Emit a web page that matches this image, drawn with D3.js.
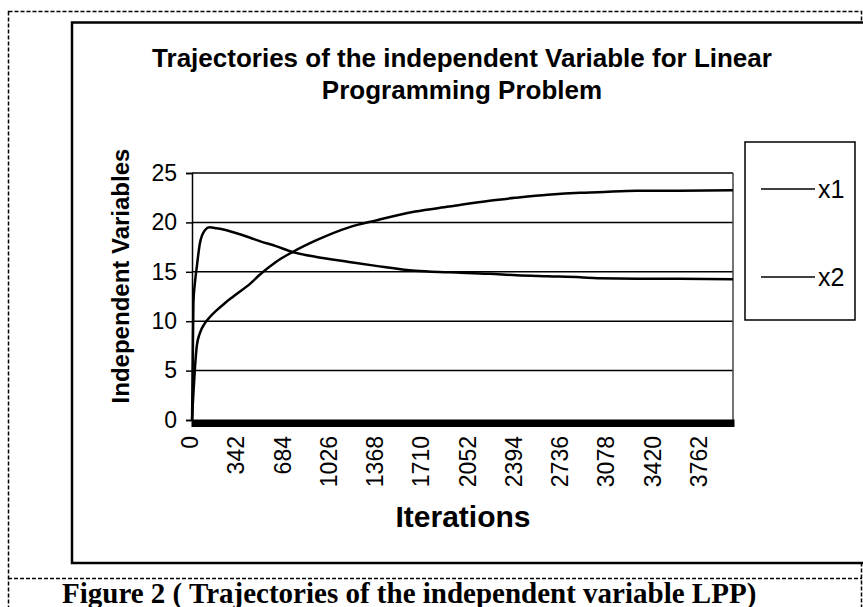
<!DOCTYPE html>
<html><head><meta charset="utf-8">
<script src="https://cdn.jsdelivr.net/npm/d3@7"></script>
<style>body{margin:0;background:#fff}svg{display:block}text{font-family:"Liberation Sans",Arial,sans-serif;fill:#000}</style>
</head><body><svg id="c" width="863" height="607"></svg>
<script>
// ---- data ----
const nCategories = 4000;
const iterations = [0, 5, 10, 22, 35, 58, 95, 130, 181, 240, 305, 430, 500, 620, 743, 920, 1160, 1360, 1650, 1900, 2200, 2400, 2630, 2870, 3000, 3290, 3600, 3999];
const x1 = [0, 1.5, 2.7, 5.4, 7.5, 8.8, 9.8, 10.4, 11.1, 11.8, 12.5, 13.8, 14.7, 16.0, 17.0, 18.2, 19.5, 20.2, 21.1, 21.6, 22.2, 22.5, 22.8, 23.0, 23.05, 23.2, 23.2, 23.25];
const x2 = [0, 6.0, 11.8, 14.0, 15.5, 17.9, 19.2, 19.5, 19.4, 19.25, 19.0, 18.45, 18.1, 17.6, 17.0, 16.5, 16.0, 15.6, 15.1, 14.95, 14.8, 14.65, 14.55, 14.45, 14.35, 14.3, 14.3, 14.25];
const seriesNames = ["x1", "x2"];
const xTickLabels = [0, 342, 684, 1026, 1368, 1710, 2052, 2394, 2736, 3078, 3420, 3762];
const yTicks = [0, 5, 10, 15, 20, 25];
const titleLines = ["Trajectories of the independent Variable for Linear", "Programming Problem"];
const xTitle = "Iterations";
const yTitle = "Independent Variables";
const caption = "Figure 2 ( Trajectories of the independent variable LPP)";

const svg = d3.select("#c");
// outer dashed frame
svg.append("rect").attr("x",8.5).attr("y",11.5).attr("width",853).attr("height",700)
  .attr("fill","none").attr("stroke","#000").attr("stroke-width",1.5).attr("stroke-dasharray","4,2");
svg.append("line").attr("x1",8).attr("x2",862).attr("y1",578.5).attr("y2",578.5)
  .attr("stroke","#000").attr("stroke-width",1.5).attr("stroke-dasharray","4,2");
// chart box
svg.append("rect").attr("x",72).attr("y",22.5).attr("width",820).attr("height",540.5)
  .attr("fill","#fff").attr("stroke","#000").attr("stroke-width",2.5);

// caption
svg.append("text").attr("x",62).attr("y",603)
  .style("font-family","'Liberation Serif','Times New Roman',serif")
  .attr("font-size",29).attr("font-weight","bold").text(caption);

// title
svg.selectAll("text.title").data(titleLines).join("text").attr("class","title")
  .attr("x",462).attr("y",(d,i)=>67+i*32).attr("text-anchor","middle")
  .attr("font-size",26).attr("font-weight","bold").text(d=>d);

const L=192, R=733, T=173, B=420;
const x = d3.scaleLinear().domain([-0.5, nCategories-0.5]).range([L, R]);
const y = d3.scaleLinear().domain([0, 25]).range([B, T]);

// gridlines
svg.append("g").selectAll("line").data(yTicks.filter(v=>v>0)).join("line")
  .attr("x1",L).attr("x2",R).attr("y1",d=>y(d)).attr("y2",d=>y(d))
  .attr("stroke","#000").attr("stroke-width",1.5);
// plot right border
svg.append("line").attr("x1",R).attr("x2",R).attr("y1",T).attr("y2",B).attr("stroke","#444").attr("stroke-width",1.5);

// y axis
const ya = svg.append("g").attr("transform",`translate(${L},0)`)
  .call(d3.axisLeft(y).tickValues(yTicks).tickSize(6).tickPadding(9));
ya.select(".domain").attr("stroke","#000").attr("stroke-width",1.5);
ya.selectAll(".tick line").attr("stroke","#000").attr("stroke-width",1.5);
ya.selectAll("text").attr("font-size",23).attr("font-family","'Liberation Sans',Arial,sans-serif");

// x axis: a tick at every category (they merge into a band)
const xa = svg.append("g").attr("transform",`translate(0,${B})`)
  .call(d3.axisBottom(x).tickValues(d3.range(0,nCategories)).tickSize(7).tickFormat(""));
xa.select(".domain").attr("stroke","#000").attr("stroke-width",2);
xa.selectAll(".tick line").attr("stroke","#000").attr("stroke-width",1);
svg.append("g").selectAll("text").data(xTickLabels).join("text")
  .attr("transform",d=>`translate(${x(d)-2},436) rotate(-90)`)
  .attr("text-anchor","end").attr("dy","0.35em").attr("font-size",23).text(d=>d);

// axis titles
svg.append("text").attr("transform",`translate(129,276) rotate(-90)`)
  .attr("text-anchor","middle").attr("font-size",24).attr("font-weight","bold").text(yTitle);
svg.append("text").attr("x",463).attr("y",527).attr("text-anchor","middle")
  .attr("font-size",30).attr("font-weight","bold").text(xTitle);

// lines
const line = d3.line().x(d=>x(d[0])).y(d=>y(d[1])).curve(d3.curveMonotoneX);
[x1, x2].forEach(vals=>{
  svg.append("path").datum(iterations.map((it,i)=>[it, vals[i]]))
    .attr("d",line).attr("fill","none").attr("stroke","#000").attr("stroke-width",2.5);
});

// legend
const lg = svg.append("g");
lg.append("rect").attr("x",745).attr("y",142).attr("width",110).attr("height",178)
  .attr("fill","#fff").attr("stroke","#000").attr("stroke-width",1.5);
const ly = d3.scalePoint().domain(seriesNames).range([189, 277]);
lg.selectAll("line").data(seriesNames).join("line")
  .attr("x1",761).attr("x2",815).attr("y1",d=>ly(d)).attr("y2",d=>ly(d)).attr("stroke","#000").attr("stroke-width",1.5);
lg.selectAll("text").data(seriesNames).join("text")
  .attr("x",818).attr("y",d=>ly(d)).attr("dy","0.35em").attr("font-size",25).text(d=>d);
</script></body></html>
